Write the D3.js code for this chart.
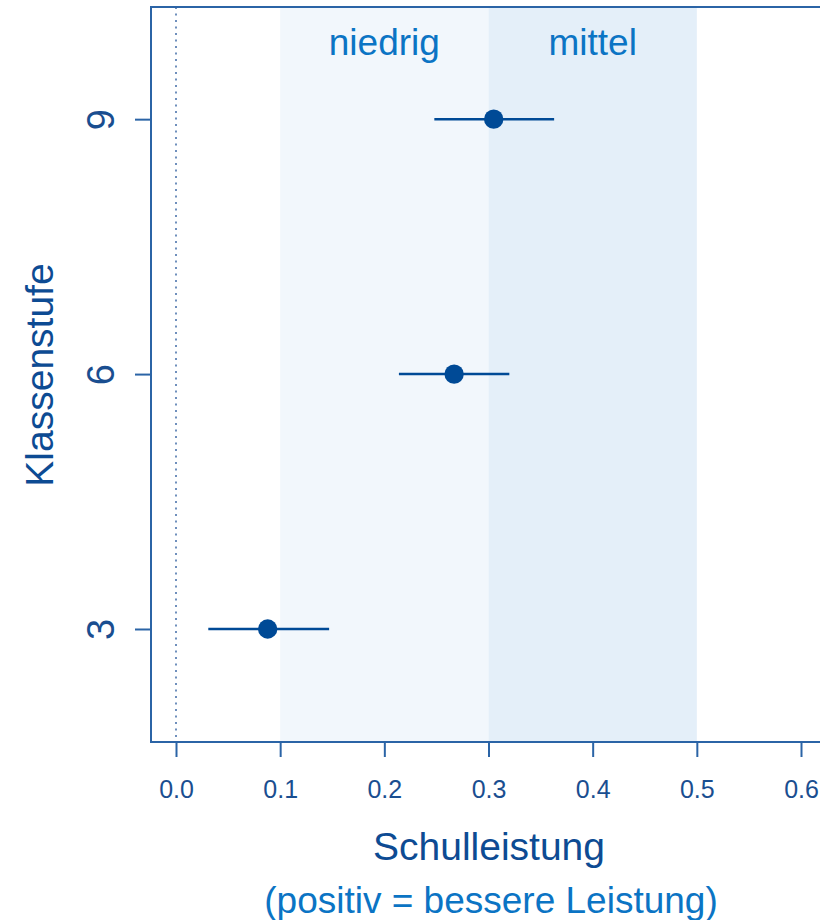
<!DOCTYPE html>
<html>
<head>
<meta charset="utf-8">
<script src="https://cdn.jsdelivr.net/npm/d3@7"></script>
<style>
  body { margin: 0; background: #fff; }
  svg { display: block; font-family: "Liberation Sans", Arial, Helvetica, sans-serif; }
</style>
</head>
<body>
<svg id="chart" width="820" height="920"></svg>
<script>
// Effect estimates per grade with confidence intervals
const grades = [3, 6, 9];
const estimates = [0.088, 0.267, 0.305];
const ciLower = [0.031, 0.214, 0.248];
const ciUpper = [0.147, 0.320, 0.363];

// Shaded effect-size ranges
const bandNames = ["niedrig", "mittel"];
const bandFrom = [0.1, 0.3];
const bandTo = [0.3, 0.5];

const xTicks = [0.0, 0.1, 0.2, 0.3, 0.4, 0.5, 0.6];
const yTicks = [3, 6, 9];

const svg = d3.select("#chart");
const plot = { left: 151, right: 826, top: 7, bottom: 742 };

const x = d3.scaleLinear().domain([-0.024, 0.624]).range([plot.left, plot.right]);
const y = d3.scaleLinear().domain([1.67, 10.32]).range([plot.bottom, plot.top]);

const dark = "#004a96";
const axisCol = "#2b64a6";
const labelCol = "#1a4e90";
const bandCols = ["#f2f7fc", "#e4eff9"];

// bands
svg.append("g").selectAll("rect")
  .data(bandNames)
  .join("rect")
  .attr("x", (d, i) => x(bandFrom[i]))
  .attr("width", (d, i) => x(bandTo[i]) - x(bandFrom[i]))
  .attr("y", plot.top)
  .attr("height", plot.bottom - plot.top)
  .attr("fill", (d, i) => bandCols[i]);

svg.append("g").selectAll("text")
  .data(bandNames)
  .join("text")
  .attr("x", (d, i) => x((bandFrom[i] + bandTo[i]) / 2))
  .attr("y", 55)
  .attr("text-anchor", "middle")
  .attr("font-size", 37)
  .attr("fill", "#0b74c4")
  .text(d => d);

// reference line at zero
svg.append("line")
  .attr("x1", x(0)).attr("x2", x(0))
  .attr("y1", plot.top).attr("y2", plot.bottom)
  .attr("stroke", "#6f8fbc")
  .attr("stroke-width", 2)
  .attr("stroke-dasharray", "2,4.5");

// confidence intervals
svg.append("g").selectAll("line")
  .data(grades)
  .join("line")
  .attr("x1", (d, i) => x(ciLower[i]))
  .attr("x2", (d, i) => x(ciUpper[i]))
  .attr("y1", d => y(d))
  .attr("y2", d => y(d))
  .attr("stroke", dark)
  .attr("stroke-width", 2.5);

// point estimates
svg.append("g").selectAll("circle")
  .data(grades)
  .join("circle")
  .attr("cx", (d, i) => x(estimates[i]))
  .attr("cy", d => y(d))
  .attr("r", 9.7)
  .attr("fill", dark);

// plot frame (left, top, bottom)
svg.append("path")
  .attr("d", `M${plot.right},${plot.top}H${plot.left}V${plot.bottom}H${plot.right}`)
  .attr("fill", "none")
  .attr("stroke", axisCol)
  .attr("stroke-width", 2);

// x axis
const xAxis = svg.append("g")
  .attr("transform", `translate(0,${plot.bottom})`)
  .call(d3.axisBottom(x).tickValues(xTicks).tickFormat(d3.format(".1f")).tickSize(15));
xAxis.select(".domain").remove();
xAxis.selectAll("line").attr("stroke", axisCol).attr("stroke-width", 2);
xAxis.selectAll("text")
  .attr("font-size", 25)
  .attr("fill", labelCol)
  .attr("font-family", null)
  .attr("y", 56)
  .attr("dy", null);

// y axis
const yAxis = svg.append("g")
  .attr("transform", `translate(${plot.left},0)`)
  .call(d3.axisLeft(y).tickValues(yTicks).tickSize(16).tickFormat(d3.format("d")));
yAxis.select(".domain").remove();
yAxis.selectAll("line").attr("stroke", axisCol).attr("stroke-width", 2);
yAxis.selectAll("text")
  .attr("font-size", 38)
  .attr("fill", labelCol)
  .attr("font-family", null)
  .attr("text-anchor", "middle")
  .attr("x", null).attr("dy", null)
  .attr("transform", "translate(-37,0) rotate(-90)");

// axis titles
svg.append("text")
  .attr("transform", `translate(53,375) rotate(-90)`)
  .attr("text-anchor", "middle")
  .attr("font-size", 39)
  .attr("fill", "#0d4b93")
  .text("Klassenstufe");

svg.append("text")
  .attr("x", 489)
  .attr("y", 860)
  .attr("text-anchor", "middle")
  .attr("font-size", 39)
  .attr("fill", "#0d4b93")
  .text("Schulleistung");

svg.append("text")
  .attr("x", 491)
  .attr("y", 913)
  .attr("text-anchor", "middle")
  .attr("font-size", 37)
  .attr("fill", "#0b74c4")
  .text("(positiv = bessere Leistung)");
</script>
</body>
</html>
